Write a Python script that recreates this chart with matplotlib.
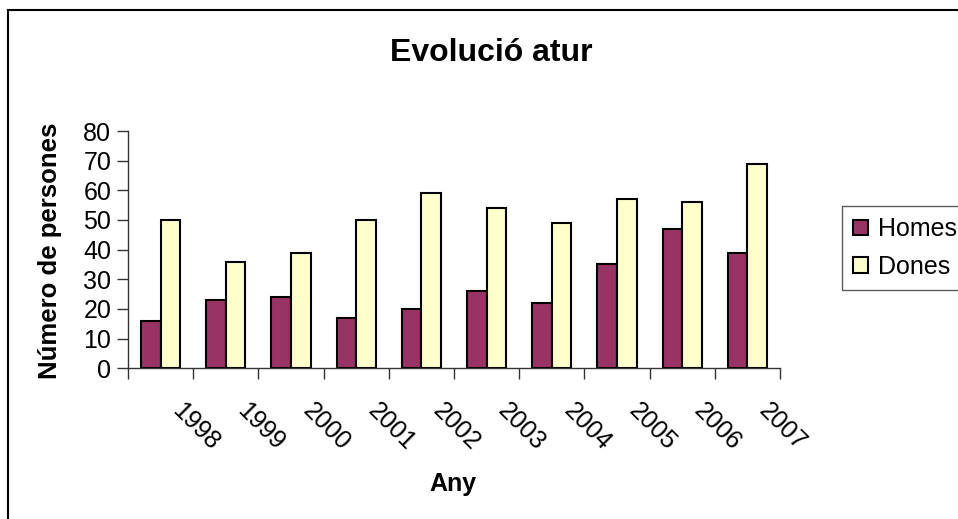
import numpy as np
import matplotlib.pyplot as plt
from matplotlib.patches import Rectangle
from matplotlib.transforms import ScaledTranslation

plt.rcParams['font.family'] = ['Liberation Sans', 'DejaVu Sans']

years = ['1998', '1999', '2000', '2001', '2002', '2003', '2004', '2005', '2006', '2007']
homes = [16, 23, 24, 17, 20, 26, 22, 35, 47, 39]
dones = [50, 36, 39, 50, 59, 54, 49, 57, 56, 69]

fig = plt.figure(figsize=(9.58, 5.19), dpi=100)
ax = fig.add_axes([128/958, 1 - 368.3/519, 652/958, (368.3 - 131)/519])

x = np.arange(len(years))
w = 0.3
ax.bar(x - w/2, homes, w, color='#993366', edgecolor='black', linewidth=1.5, label='Homes')
ax.bar(x + w/2, dones, w, color='#FFFFCC', edgecolor='black', linewidth=1.5, label='Dones')

ax.set_xlim(-0.5, len(years) - 0.5)
ax.set_ylim(0, 80)
ax.set_yticks(range(0, 81, 10))
ax.tick_params(axis='y', labelsize=18, length=8, width=1, color='#333333', pad=4)

# category boundaries get the tick marks, centres get the labels
ax.set_xticks(np.arange(-0.5, len(years)), minor=True)
ax.set_xticks(x)
ax.set_xticklabels(years)
ax.tick_params(axis='x', which='minor', length=8, width=1, color='#333333')
ax.tick_params(axis='x', which='major', length=0, labelsize=18, pad=0)
off = ScaledTranslation(24/100, -30/100, fig.dpi_scale_trans)
for lab in ax.get_xticklabels():
    lab.set_rotation(-45)
    lab.set_rotation_mode('anchor')
    lab.set_ha('left')
    lab.set_va('top')
    lab.set_transform(lab.get_transform() + off)

for s in ['top', 'right']:
    ax.spines[s].set_visible(False)
for s in ['left', 'bottom']:
    ax.spines[s].set_color('#333333')
    ax.spines[s].set_linewidth(1)

fig.text(491/958, 1 - 53/519, 'Evolució atur', fontsize=23, fontweight='bold', ha='center', va='center')
fig.text(453/958, 1 - 484/519, 'Any', fontsize=18, fontweight='bold', ha='center', va='center')
fig.text(50/958, 1 - 251/519, 'Número de persones', fontsize=18.5, fontweight='bold',
         ha='center', va='center', rotation=90)

leg = fig.legend(loc='upper left', bbox_to_anchor=(842/958, 1 - 206/519), fontsize=18,
                 frameon=True, fancybox=False, borderaxespad=0, handlelength=0.6,
                 handleheight=0.6, handletextpad=0.4, labelspacing=0.55, borderpad=0.45)
leg.get_frame().set_edgecolor('#333333')
leg.get_frame().set_linewidth(1)

fig.patches.append(Rectangle((8/958, -0.1), 1.2, 1 - 10/519 + 0.1, transform=fig.transFigure,
                             fill=False, edgecolor='black', linewidth=1.5))

fig.savefig('out.png', dpi=100)
